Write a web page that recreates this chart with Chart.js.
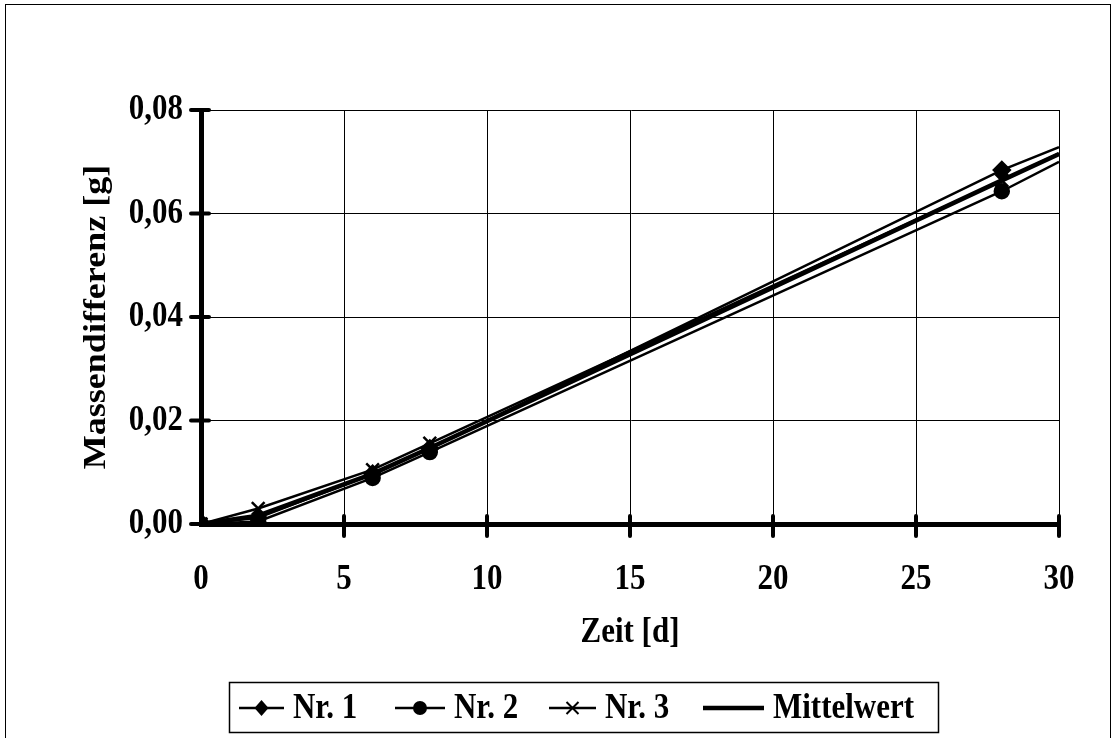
<!DOCTYPE html>
<html>
<head>
<meta charset="utf-8">
<script src="https://cdn.jsdelivr.net/npm/chart.js@4"></script>
<style>
  body { margin: 0; background: #fff; }
  #frame { position: absolute; left: 5px; top: 4px; width: 1104px; height: 800px; border: 1.5px solid #000; }
  #wrap { position: absolute; left: 0; top: 0; width: 1117px; height: 738px; }
</style>
</head>
<body>
<div id="frame"></div>
<div id="wrap"><canvas id="massChart" width="1117" height="738"></canvas></div>
<script>
const days = [0, 2, 6, 8, 28, 30];
const nr1 = [0, 0.0012, 0.0097, 0.0146, 0.0684, 0.0728];
const nr2 = [0, 0.0005, 0.0089, 0.0139, 0.0643, 0.0700];
const nr3 = [0, 0.0030, 0.0105, 0.0156, 0.0664, 0.0716];
const mittelwert = [0, 0.0016, 0.0097, 0.0147, 0.0664, 0.0715];
const seriesNames = ["Nr. 1", "Nr. 2", "Nr. 3", "Mittelwert"];

const font = "'Liberation Serif', 'Times New Roman', serif";
const fontSize = 36;
const squeeze = 0.86; // text in the original is narrow and tall
const markerShown = [1, 1, 1, 1, 1, 0];

function toPoints(values) {
    return days.map((d, i) => ({ x: d, y: values[i] }));
}

const canvas = document.getElementById("massChart");
const ctx2d = canvas.getContext("2d");

// draw every text condensed across the page width
const plainFill = ctx2d.fillText.bind(ctx2d);
const plainMeasure = ctx2d.measureText.bind(ctx2d);
ctx2d.fillText = function (text, x, y, maxWidth) {
    const m = ctx2d.getTransform();
    ctx2d.save();
    ctx2d.translate(x, y);
    if (Math.abs(m.b) > 0.01) ctx2d.scale(1, squeeze);
    else ctx2d.scale(squeeze, 1);
    plainFill(text, 0, 0);
    ctx2d.restore();
};
ctx2d.measureText = function (text) {
    const m = plainMeasure(text);
    return {
        width: m.width * squeeze,
        actualBoundingBoxAscent: m.actualBoundingBoxAscent,
        actualBoundingBoxDescent: m.actualBoundingBoxDescent
    };
};

// thick tick marks crossing the axes
const axisTicks = {
    id: "axisTicks",
    afterDraw(chart) {
        const ctx = chart.ctx;
        const area = chart.chartArea;
        const xs = chart.scales.x;
        const ys = chart.scales.y;
        ctx.save();
        ctx.strokeStyle = "#000";
        ctx.lineWidth = 4;
        ctx.lineCap = "round";
        ys.ticks.forEach(t => {
            const py = ys.getPixelForValue(t.value);
            ctx.beginPath();
            ctx.moveTo(area.left - 10, py);
            ctx.lineTo(area.left + 8, py);
            ctx.stroke();
        });
        xs.ticks.forEach(t => {
            if (t.value === 0) return;
            const px = xs.getPixelForValue(t.value);
            ctx.beginPath();
            ctx.moveTo(px, area.bottom - 8);
            ctx.lineTo(px, area.bottom + 12);
            ctx.stroke();
        });
        ctx.restore();
    }
};

function drawMarker(ctx, style, x, y) {
    ctx.save();
    ctx.fillStyle = "#000";
    ctx.strokeStyle = "#000";
    if (style === "rectRot") {
        ctx.beginPath();
        ctx.moveTo(x, y - 8);
        ctx.lineTo(x + 7, y);
        ctx.lineTo(x, y + 8);
        ctx.lineTo(x - 7, y);
        ctx.closePath();
        ctx.fill();
    } else if (style === "circle") {
        ctx.beginPath();
        ctx.arc(x, y, 7, 0, Math.PI * 2);
        ctx.fill();
    } else if (style === "crossRot") {
        ctx.lineWidth = 2;
        ctx.beginPath();
        ctx.moveTo(x - 6, y - 6);
        ctx.lineTo(x + 6, y + 6);
        ctx.moveTo(x + 6, y - 6);
        ctx.lineTo(x - 6, y + 6);
        ctx.stroke();
    }
    ctx.restore();
}

// boxed legend below the axis title
const legendSlots = [[239, 284], [395, 445], [549, 596], [703, 764]];
const boxLegend = {
    id: "boxLegend",
    afterDraw(chart) {
        const ctx = chart.ctx;
        const box = { x: 229, y: 682, w: 709, h: 50 };
        ctx.save();
        ctx.strokeStyle = "#000";
        ctx.lineWidth = 1.5;
        ctx.strokeRect(box.x + 0.5, box.y + 0.5, box.w, box.h);
        ctx.font = "bold " + fontSize + "px " + font;
        ctx.textBaseline = "middle";
        ctx.textAlign = "left";
        ctx.fillStyle = "#000";
        const cy = box.y + box.h / 2 + 1;
        chart.data.datasets.forEach((ds, i) => {
            const [x0, x1] = legendSlots[i];
            ctx.strokeStyle = "#000";
            ctx.lineWidth = ds.borderWidth;
            ctx.beginPath();
            ctx.moveTo(x0, cy);
            ctx.lineTo(x1, cy);
            ctx.stroke();
            if (ds.pointStyle !== false) drawMarker(ctx, ds.pointStyle, (x0 + x1) / 2, cy);
            ctx.fillText(ds.label, x1 + 9, cy + 1);
        });
        ctx.restore();
    }
};

const labelFont = { family: font, size: fontSize, weight: "bold" };

new Chart(canvas, {
    type: "line",
    data: {
        datasets: [
            {
                label: seriesNames[0],
                data: toPoints(nr1),
                borderColor: "#000",
                backgroundColor: "#000",
                borderWidth: 2.5,
                pointStyle: "rectRot",
                pointRadius: markerShown.map(s => s ? 8 : 0)
            },
            {
                label: seriesNames[1],
                data: toPoints(nr2),
                borderColor: "#000",
                backgroundColor: "#000",
                borderWidth: 2.5,
                pointStyle: "circle",
                pointRadius: markerShown.map(s => s ? 7 : 0)
            },
            {
                label: seriesNames[2],
                data: toPoints(nr3),
                borderColor: "#000",
                backgroundColor: "#000",
                borderWidth: 2.5,
                pointStyle: "crossRot",
                pointBorderWidth: 2.5,
                pointRadius: markerShown.map(s => s ? 9 : 0)
            },
            {
                label: seriesNames[3],
                data: toPoints(mittelwert),
                borderColor: "#000",
                backgroundColor: "#000",
                borderWidth: 4.5,
                pointStyle: false,
                pointRadius: 0
            }
        ]
    },
    options: {
        responsive: false,
        animation: false,
        layout: { padding: { top: 110, right: 58, bottom: 84, left: 0 } },
        plugins: {
            legend: { display: false },
            tooltip: { enabled: false }
        },
        scales: {
            x: {
                type: "linear",
                min: 0,
                max: 30,
                afterFit: s => { s.height = 130; },
                grid: { color: "#000", lineWidth: 1, drawTicks: false },
                border: { color: "#000", width: 5 },
                ticks: {
                    stepSize: 5,
                    padding: 34,
                    color: "#000",
                    font: labelFont
                },
                title: {
                    display: true,
                    text: "Zeit [d]",
                    color: "#000",
                    padding: { top: 0, bottom: 0 },
                    font: labelFont
                }
            },
            y: {
                min: 0,
                max: 0.08,
                afterFit: s => { s.width = 201; },
                grid: { color: "#000", lineWidth: 1, drawTicks: false },
                border: { color: "#000", width: 5 },
                ticks: {
                    stepSize: 0.02,
                    padding: 18,
                    color: "#000",
                    font: labelFont,
                    callback: v => v.toFixed(2).replace(".", ",")
                },
                title: {
                    display: true,
                    text: "Massendifferenz [g]",
                    color: "#000",
                    padding: { top: 75, bottom: 0 },
                    font: labelFont
                }
            }
        }
    },
    plugins: [axisTicks, boxLegend]
});
</script>
</body>
</html>
